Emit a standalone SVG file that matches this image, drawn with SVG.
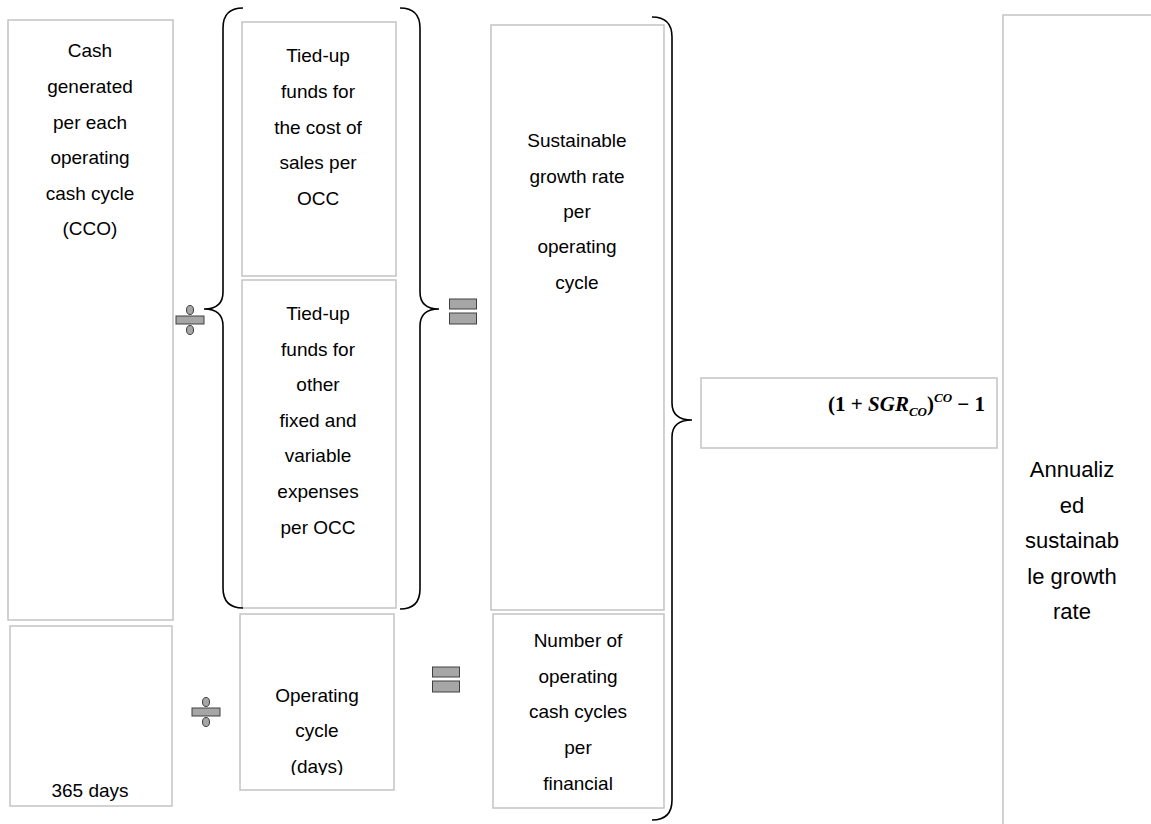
<svg xmlns="http://www.w3.org/2000/svg" width="1151" height="824" viewBox="0 0 1151 824">
<style>
.box{fill:#fff;stroke:#c3c3c3;stroke-width:1.5}
.brace{fill:none;stroke:#000;stroke-width:1.6}
.t{font-family:"Liberation Sans",Arial,sans-serif;font-size:19px;fill:#000;text-anchor:middle}
.big{font-size:22px}
.op{fill:#a6a6a6;stroke:#404040;stroke-width:1}
.f{font-family:"Liberation Serif","Times New Roman",serif;font-size:21px;font-weight:bold;fill:#000}
</style>
<defs>
<clipPath id="clipOp"><rect x="240" y="614" width="154" height="161"/></clipPath>
<g id="divSym">
<rect class="op" x="-14" y="-4" width="28" height="8"/>
<ellipse class="op" cx="0" cy="-10" rx="3.5" ry="4.5"/>
<ellipse class="op" cx="0" cy="10" rx="3.5" ry="4.5"/>
</g>
<g id="eqSym">
<rect class="op" x="-13.5" y="-10" width="27" height="10"/>
<rect class="op" x="-13.5" y="4" width="27" height="11"/>
</g>
</defs>
<rect width="1151" height="824" fill="#fff"/>

<g id="n-cash">
<rect class="box" x="8" y="20" width="165" height="600"/>
<text class="t" x="90" y="57">Cash</text>
<text class="t" x="90" y="93">generated</text>
<text class="t" x="90" y="129">per each</text>
<text class="t" x="90" y="164">operating</text>
<text class="t" x="90" y="200">cash cycle</text>
<text class="t" x="90" y="235">(CCO)</text>
</g>

<g id="n-365">
<rect class="box" x="10" y="626" width="162" height="180"/>
<text class="t" x="90" y="797">365 days</text>
</g>

<g id="n-tied1">
<rect class="box" x="242" y="22" width="154" height="254"/>
<text class="t" x="318" y="62">Tied-up</text>
<text class="t" x="318" y="98">funds for</text>
<text class="t" x="318" y="134">the cost of</text>
<text class="t" x="318" y="169">sales per</text>
<text class="t" x="318" y="205">OCC</text>
</g>

<g id="n-tied2">
<rect class="box" x="242" y="280" width="154" height="328"/>
<text class="t" x="318" y="320">Tied-up</text>
<text class="t" x="318" y="356">funds for</text>
<text class="t" x="318" y="391">other</text>
<text class="t" x="318" y="427">fixed and</text>
<text class="t" x="318" y="462">variable</text>
<text class="t" x="318" y="498">expenses</text>
<text class="t" x="318" y="534">per OCC</text>
</g>

<g id="n-opcycle">
<rect class="box" x="240" y="614" width="154" height="176"/>
<g clip-path="url(#clipOp)">
<text class="t" x="317" y="702">Operating</text>
<text class="t" x="317" y="737">cycle</text>
<text class="t" x="317" y="773">(days)</text>
</g>
</g>

<g id="n-sgr">
<rect class="box" x="491" y="25" width="173" height="585"/>
<text class="t" x="577" y="147">Sustainable</text>
<text class="t" x="577" y="183">growth rate</text>
<text class="t" x="577" y="218">per</text>
<text class="t" x="577" y="253">operating</text>
<text class="t" x="577" y="289">cycle</text>
</g>

<g id="n-number">
<rect class="box" x="493" y="614" width="171" height="194"/>
<text class="t" x="578" y="647">Number of</text>
<text class="t" x="578" y="683">operating</text>
<text class="t" x="578" y="718">cash cycles</text>
<text class="t" x="578" y="754">per</text>
<text class="t" x="578" y="790">financial</text>
</g>

<g id="n-formula">
<rect class="box" x="701" y="378" width="296" height="70"/>
<text class="f" x="985" y="411" text-anchor="end">(1 + <tspan font-style="italic">SGR</tspan><tspan font-style="italic" font-size="13" dy="5">CO</tspan><tspan dy="-5">)</tspan><tspan font-style="italic" font-size="13" dy="-9">CO</tspan><tspan dy="9"> − 1</tspan></text>
</g>

<g id="n-annual">
<rect class="box" x="1003" y="15" width="160" height="830"/>
<text class="t big" x="1072" y="477">Annualiz</text>
<text class="t big" x="1072" y="513">ed</text>
<text class="t big" x="1072" y="548">sustainab</text>
<text class="t big" x="1072" y="584">le growth</text>
<text class="t big" x="1072" y="619">rate</text>
</g>

<g id="connectors">
<path class="brace" d="M243,8 Q223,8 223,28 L223,292 Q223,309 204,309 Q223,309 223,326 L223,588 Q223,608 243,608"/>
<path class="brace" d="M400,8 Q420,8 420,28 L420,292 Q420,309 439,309 Q420,309 420,326 L420,589 Q420,609 400,609"/>
<path class="brace" d="M652,17 Q672,17 672,37 L672,403 Q672,420 692,420 Q672,420 672,437 L672,800 Q672,820 652,820"/>
<use href="#divSym" x="190" y="320"/>
<use href="#eqSym" x="463" y="309"/>
<use href="#divSym" x="206" y="712"/>
<use href="#eqSym" x="446" y="677"/>
</g>
</svg>
